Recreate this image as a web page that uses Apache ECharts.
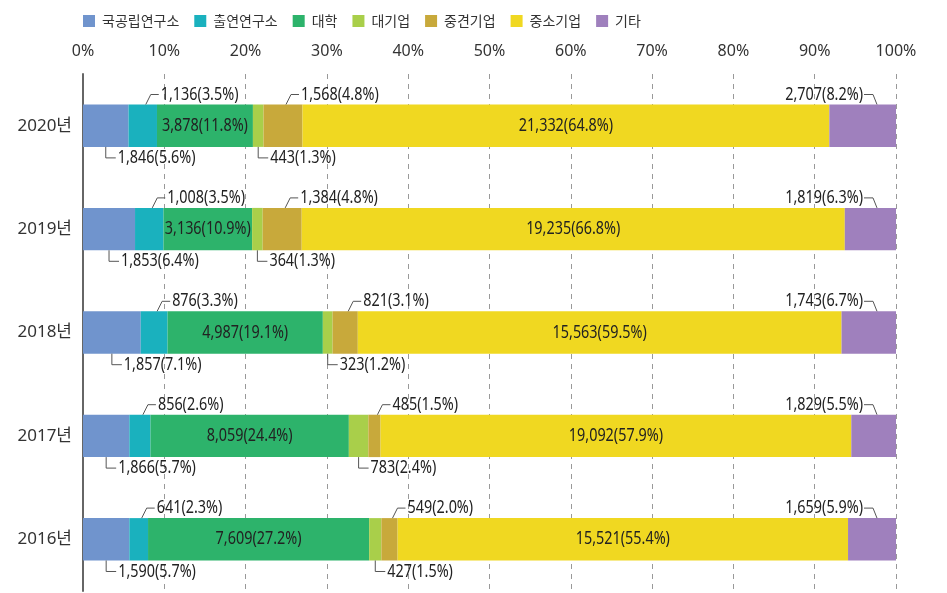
<!DOCTYPE html>
<html>
<head>
<meta charset="utf-8">
<script src="https://cdn.jsdelivr.net/npm/echarts@6/dist/echarts.min.js"></script>
<style>
html,body{margin:0;padding:0;background:#fff;}
#chart{width:947px;height:593px;}
</style>
</head>
<body>
<div id="chart"></div>
<script>
const years = ['2020년', '2019년', '2018년', '2017년', '2016년'];
const seriesNames = ['국공립연구소', '출연연구소', '대학', '대기업', '중견기업', '중소기업', '기타'];
const xTicks = [0, 10, 20, 30, 40, 50, 60, 70, 80, 90, 100];

// counts per group (years 2020..2016)
const cntNational = [1846, 1853, 1857, 1866, 1590];
const cntFunded   = [1136, 1008, 876, 856, 641];
const cntUniv     = [3878, 3136, 4987, 8059, 7609];
const cntLarge    = [443, 364, 323, 783, 427];
const cntMid      = [1568, 1384, 821, 485, 549];
const cntSmall    = [21332, 19235, 15563, 19092, 15521];
const cntOther    = [2707, 1819, 1743, 1829, 1659];

// shares in % (years 2020..2016)
const pctNational = [5.6, 6.4, 7.1, 5.7, 5.7];
const pctFunded   = [3.5, 3.5, 3.3, 2.6, 2.3];
const pctUniv     = [11.8, 10.9, 19.1, 24.4, 27.2];
const pctLarge    = [1.3, 1.3, 1.2, 2.4, 1.5];
const pctMid      = [4.8, 4.8, 3.1, 1.5, 2.0];
const pctSmall    = [64.8, 66.8, 59.5, 57.9, 55.4];
const pctOther    = [8.2, 6.3, 6.7, 5.5, 5.9];

const counts = [cntNational, cntFunded, cntUniv, cntLarge, cntMid, cntSmall, cntOther];
const pcts = [pctNational, pctFunded, pctUniv, pctLarge, pctMid, pctSmall, pctOther];
const colors = ['#7094cd', '#1ab1be', '#2db36b', '#a9cf4a', '#c8a93b', '#f0d821', '#9f80bd'];

const FONT = '"Noto Sans", "Noto Sans CJK KR", sans-serif';
const fmt = n => n.toLocaleString('en-US');
const labelText = (s, y) => fmt(counts[s][y]) + '(' + pcts[s][y].toFixed(1) + '%)';

const BAR_FRAC = 0.41;
const SQUEEZE = 0.8;

const barSeries = seriesNames.map((name, s) => ({
  name: name,
  type: 'bar',
  stack: 'total',
  barWidth: (BAR_FRAC * 100) + '%',
  itemStyle: { color: colors[s] },
  data: pcts[s]
}));

const annData = [];
years.forEach((yr, y) => {
  seriesNames.forEach((nm, s) => {
    let start = 0;
    for (let k = 0; k < s; k++) start += pcts[k][y];
    annData.push([start, y, start + pcts[s][y], s]);
  });
});

const annSeries = {
  type: 'custom',
  silent: true,
  clip: false,
  z: 10,
  encode: { x: [0, 2], y: 1 },
  data: annData,
  renderItem: function (params, api) {
    const start = api.value(0), y = api.value(1), end = api.value(2), s = api.value(3);
    const p0 = api.coord([start, y]);
    const p1 = api.coord([end, y]);
    const band = api.size([0, 1])[1];
    const half = band * BAR_FRAC / 2;
    const top = p0[1] - half, bot = p0[1] + half;
    const mid = (p0[0] + p1[0]) / 2;
    const txt = labelText(s, y);
    let pts = null, tx, ty, align;
    if (s === 2 || s === 5) {
      tx = mid; ty = p0[1]; align = 'center';
    } else if (s === 0 || s === 3) {
      pts = [[mid, bot], [mid, bot + 11], [mid + 10, bot + 11]];
      tx = mid + 12; ty = bot + 11; align = 'left';
    } else if (s === 1 || s === 4) {
      pts = [[mid + 3, top], [mid + 8, top - 10], [mid + 16, top - 10]];
      tx = mid + 18; ty = top - 10; align = 'left';
    } else {
      const e = p1[0];
      pts = [[e - 19, top], [e - 23, top - 10], [e - 32, top - 10]];
      tx = e - 33; ty = top - 10; align = 'right';
    }
    const children = [];
    if (pts) children.push({ type: 'polyline', shape: { points: pts }, style: { stroke: '#555', lineWidth: 1, fill: null } });
    children.push({
      type: 'text', x: tx, y: ty, scaleX: SQUEEZE,
      style: { x: 0, y: 0, text: txt, fill: '#222', fontSize: 18, fontFamily: FONT, align: align, verticalAlign: 'middle' }
    });
    return { type: 'group', children: children };
  }
};

const chart = echarts.init(document.getElementById('chart'));
chart.setOption({
  backgroundColor: '#fff',
  animation: false,
  legend: {
    data: seriesNames,
    left: 78,
    top: 9,
    icon: 'rect',
    itemWidth: 12,
    itemHeight: 12,
    itemGap: 15,
    textStyle: { fontSize: 14, color: '#333', fontFamily: '"Noto Sans CJK KR", sans-serif', padding: [0, 0, 0, 2] }
  },
  grid: { left: 83, right: 51, top: 74, bottom: 2, containLabel: false },
  xAxis: {
    type: 'value',
    position: 'top',
    min: xTicks[0],
    max: xTicks[xTicks.length - 1],
    interval: xTicks[1] - xTicks[0],
    axisLine: { show: false },
    axisTick: { show: false },
    axisLabel: { formatter: '{value}%', fontSize: 16, color: '#333', fontFamily: FONT, margin: 15 },
    splitLine: { show: true, lineStyle: { color: '#999', type: [5, 5], width: 1 } }
  },
  yAxis: {
    type: 'category',
    inverse: true,
    data: years,
    axisLine: { show: true, lineStyle: { color: '#666', width: 2 } },
    axisTick: { show: false },
    axisLabel: { fontSize: 17, color: '#333', fontFamily: FONT, margin: 11 }
  },
  series: barSeries.concat([annSeries])
});
</script>
</body>
</html>
